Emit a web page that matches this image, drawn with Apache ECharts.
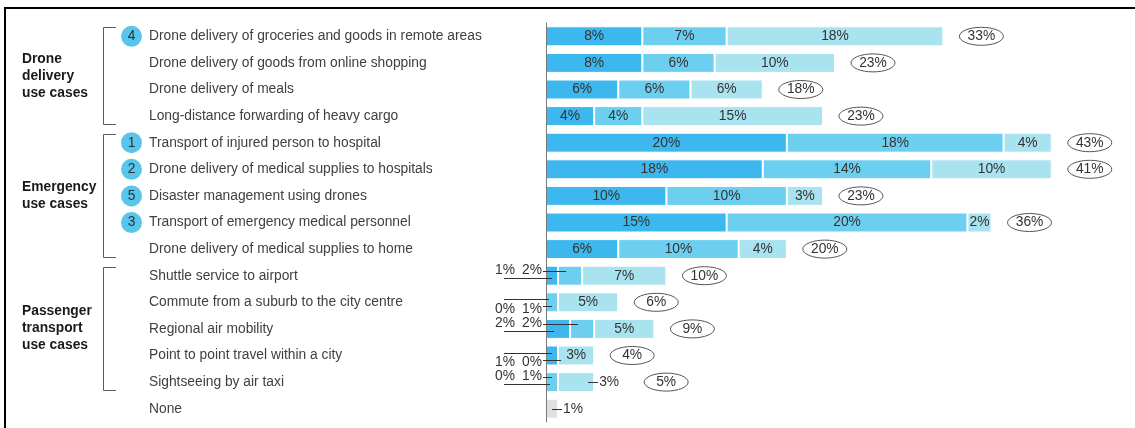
<!DOCTYPE html>
<html>
<head>
<meta charset="utf-8">
<script src="https://cdn.jsdelivr.net/npm/echarts@6/dist/echarts.min.js"></script>
<style>
  html, body { margin: 0; padding: 0; background: #ffffff; }
  #chart { width: 1135px; height: 428px; }
</style>
</head>
<body>
<div id="chart"></div>
<script>
// Use cases, top to bottom
const categories = [
  'Drone delivery of groceries and goods in remote areas',
  'Drone delivery of goods from online shopping',
  'Drone delivery of meals',
  'Long-distance forwarding of heavy cargo',
  'Transport of injured person to hospital',
  'Drone delivery of medical supplies to hospitals',
  'Disaster management using drones',
  'Transport of emergency medical personnel',
  'Drone delivery of medical supplies to home',
  'Shuttle service to airport',
  'Commute from a suburb to the city centre',
  'Regional air mobility',
  'Point to point travel within a city',
  'Sightseeing by air taxi',
  'None'
];

// Overall ranking badge shown in front of a use case
const rankBadges = ['4', '', '', '', '1', '2', '5', '3', '', '', '', '', '', '', ''];

// Groups of use cases (first and last row index)
const groupNames = ['Drone\ndelivery\nuse cases', 'Emergency\nuse cases', 'Passenger\ntransport\nuse cases'];
const groupFirstRow = [0, 4, 9];
const groupLastRow = [3, 8, 13];

// Share of respondents (%) per priority
const firstPriority  = [8, 8, 6, 4, 20, 18, 10, 15, 6, 1, 0, 2, 1, 0, null];
const secondPriority = [7, 6, 6, 4, 18, 14, 10, 20, 10, 2, 1, 2, 0, 1, null];
const thirdPriority  = [18, 10, 6, 15, 4, 10, 3, 2, 4, 7, 5, 5, 3, 3, null];
const noneShare      = [null, null, null, null, null, null, null, null, null, null, null, null, null, null, 1];
const totalShare     = [33, 23, 18, 23, 43, 41, 23, 36, 20, 10, 6, 9, 4, 5, null];

// Rows whose first/second values are called out beside the axis
const calloutRows = [9, 10, 11, 12, 13];
const calloutSide = ['up', 'down', 'up', 'down', 'up'];
// Rows whose third value is written just past the bar end
const thirdOutsideRows = [13];

const COLORS = ['#3cb8ee', '#6ccff0', '#a8e3ef', '#e0e0e0'];
const FONT_FAMILY = '"Liberation Sans", Arial, Helvetica, sans-serif';
const FONT_SIZE = 13.8;
const TEXT = '#333333';
const LABEL_FONT = FONT_SIZE + 'px ' + FONT_FAMILY;

const chart = echarts.init(document.getElementById('chart'), null, { renderer: 'canvas' });

function barLabel(hideRows) {
  return {
    show: true,
    position: 'inside',
    color: TEXT,
    fontSize: FONT_SIZE,
    fontFamily: FONT_FAMILY,
    formatter: function (p) {
      if (p.value == null || hideRows.indexOf(p.dataIndex) >= 0) return '';
      return p.value + '%';
    }
  };
}

function makeText(str, x, y, align) {
  return {
    type: 'text',
    style: {
      text: str, x: x, y: y, font: LABEL_FONT, fill: TEXT,
      align: align, verticalAlign: 'middle'
    }
  };
}

function makeLine(x1, y1, x2, y2) {
  return {
    type: 'line',
    shape: { x1: x1, y1: Math.round(y1) + 0.5, x2: x2, y2: Math.round(y2) + 0.5 },
    style: { stroke: '#333333', lineWidth: 1 }
  };
}

// Callouts, outside labels and circled totals
function renderAnnotations(params, api) {
  const row = api.value(1);
  const base = api.coord([0, row]);
  const x0 = base[0];
  const yc = base[1];
  const children = [];
  const a = firstPriority[row] || 0;
  const b = secondPriority[row] || 0;
  const c = thirdPriority[row] || 0;
  const sum = row === 14 ? noneShare[row] : a + b + c;
  const xd = api.coord([a, row])[0];
  const xm = api.coord([a + b, row])[0];
  const xe = api.coord([sum, row])[0];

  const ci = calloutRows.indexOf(row);
  if (ci >= 0) {
    const side = calloutSide[ci];
    if (side === 'up') {
      const ty = yc - 6;
      children.push(makeText(b + '%', x0 - 4, ty, 'right'));
      children.push(makeText(a + '%', x0 - 31, ty, 'right'));
      children.push(makeLine(x0 - 3, ty + 1, xd + Math.min(8, Math.max(3, (xm - xd) * 0.5)), ty + 1));
      children.push(makeLine(x0 - 42, ty + 8, x0 + Math.min(8, Math.max(4, (xd - x0) * 0.5)), ty + 8));
    } else {
      const ty = yc + 7;
      children.push(makeText(b + '%', x0 - 4, ty, 'right'));
      children.push(makeText(a + '%', x0 - 31, ty, 'right'));
      children.push(makeLine(x0 - 42, ty - 10, x0 + Math.min(7, Math.max(3, (xd - x0) * 0.5)), ty - 10));
      children.push(makeLine(x0 - 3, ty - 3, xd + Math.min(8, Math.max(3, (xm - xd) * 0.5)), ty - 3));
    }
  }

  let labelShift = 0;
  if (thirdOutsideRows.indexOf(row) >= 0 || row === 14) {
    const v = row === 14 ? noneShare[row] : c;
    children.push(makeLine(xe - 6, yc, xe + 4, yc));
    children.push(makeText(v + '%', xe + 5, yc, 'left'));
    labelShift = 34;
  }

  if (totalShare[row] != null) {
    const cx = xe + 16 + 22 + labelShift;
    children.push({
      type: 'ellipse',
      shape: { cx: cx, cy: yc, rx: 22, ry: 9 },
      style: { fill: '#ffffff', stroke: '#555555', lineWidth: 1 }
    });
    children.push(makeText(totalShare[row] + '%', cx, yc, 'center'));
  }
  return { type: 'group', children: children };
}

const annotationData = categories.map(function (_, i) { return [0, i]; });

chart.setOption({
  animation: false,
  backgroundColor: '#ffffff',
  textStyle: { fontFamily: FONT_FAMILY },
  grid: {
    left: 546, right: 11, top: 23, bottom: 6,
    containLabel: false,
    outerBoundsMode: 'none'
  },
  xAxis: {
    type: 'value', min: 0, max: 48, show: false
  },
  yAxis: {
    type: 'category',
    inverse: true,
    z: 4,
    data: categories,
    axisTick: { show: false },
    axisLine: { show: true, lineStyle: { color: '#7a7a7a', width: 1 } },
    splitLine: { show: false },
    axisLabel: {
      interval: 0,
      align: 'left',
      margin: 425,
      color: '#404040',
      fontSize: FONT_SIZE,
      fontFamily: FONT_FAMILY,
      formatter: function (value, index) {
        const badge = rankBadges[index];
        return badge ? '{b|' + badge + '}{t|' + value + '}' : '{s|}{t|' + value + '}';
      },
      rich: {
        b: {
          width: 21, height: 21, lineHeight: 21, borderRadius: 10.5,
          backgroundColor: '#58c6ec', align: 'center',
          color: '#303030', fontSize: FONT_SIZE, fontFamily: FONT_FAMILY
        },
        s: { width: 21, height: 21 },
        t: {
          padding: [0, 0, 0, 7], color: '#404040',
          fontSize: FONT_SIZE, fontFamily: FONT_FAMILY
        }
      }
    }
  },
  series: [
    {
      name: 'First priority', type: 'bar', stack: 'share', barWidth: 20,
      data: firstPriority,
      itemStyle: { color: COLORS[0], borderColor: '#ffffff', borderWidth: 1 },
      label: barLabel(calloutRows)
    },
    {
      name: 'Second priority', type: 'bar', stack: 'share', barWidth: 20,
      data: secondPriority,
      itemStyle: { color: COLORS[1], borderColor: '#ffffff', borderWidth: 1 },
      label: barLabel(calloutRows)
    },
    {
      name: 'Third priority', type: 'bar', stack: 'share', barWidth: 20,
      data: thirdPriority,
      itemStyle: { color: COLORS[2], borderColor: '#ffffff', borderWidth: 1 },
      label: barLabel(thirdOutsideRows)
    },
    {
      name: 'None', type: 'bar', stack: 'share', barWidth: 20,
      data: noneShare,
      itemStyle: { color: COLORS[3], borderColor: '#ffffff', borderWidth: 1 },
      label: { show: false }
    },
    {
      name: 'Annotations', type: 'custom',
      coordinateSystem: 'cartesian2d',
      clip: false,
      silent: true,
      z: 5,
      encode: { x: 0, y: 1 },
      data: annotationData,
      renderItem: renderAnnotations
    }
  ]
});

// Group brackets, group titles and frame lines
function drawDecorations() {
  const graphics = [];
  const stroke = '#5a5a5a';
  for (let g = 0; g < groupNames.length; g++) {
    const yTop = chart.convertToPixel({ yAxisIndex: 0 }, groupFirstRow[g]) - 9;
    const yBot = chart.convertToPixel({ yAxisIndex: 0 }, groupLastRow[g]) + 8;
    graphics.push({
      type: 'polyline',
      shape: { points: [[116, Math.round(yTop) + 0.5], [103.5, Math.round(yTop) + 0.5], [103.5, Math.round(yBot) + 0.5], [116, Math.round(yBot) + 0.5]] },
      style: { stroke: stroke, lineWidth: 1, fill: null }
    });
    graphics.push({
      type: 'text',
      x: 22,
      y: (yTop + yBot) / 2,
      style: {
        text: groupNames[g],
        font: 'bold ' + FONT_SIZE + 'px ' + FONT_FAMILY,
        lineHeight: 17,
        fill: '#1a1a1a',
        verticalAlign: 'middle',
        align: 'left'
      }
    });
  }
  graphics.push({
    type: 'line',
    shape: { x1: 4, y1: 8, x2: 1135, y2: 8 },
    style: { stroke: '#000000', lineWidth: 2 }
  });
  graphics.push({
    type: 'line',
    shape: { x1: 5, y1: 7, x2: 5, y2: 428 },
    style: { stroke: '#000000', lineWidth: 2 }
  });
  chart.setOption({ graphic: graphics });
}
drawDecorations();
</script>
</body>
</html>
